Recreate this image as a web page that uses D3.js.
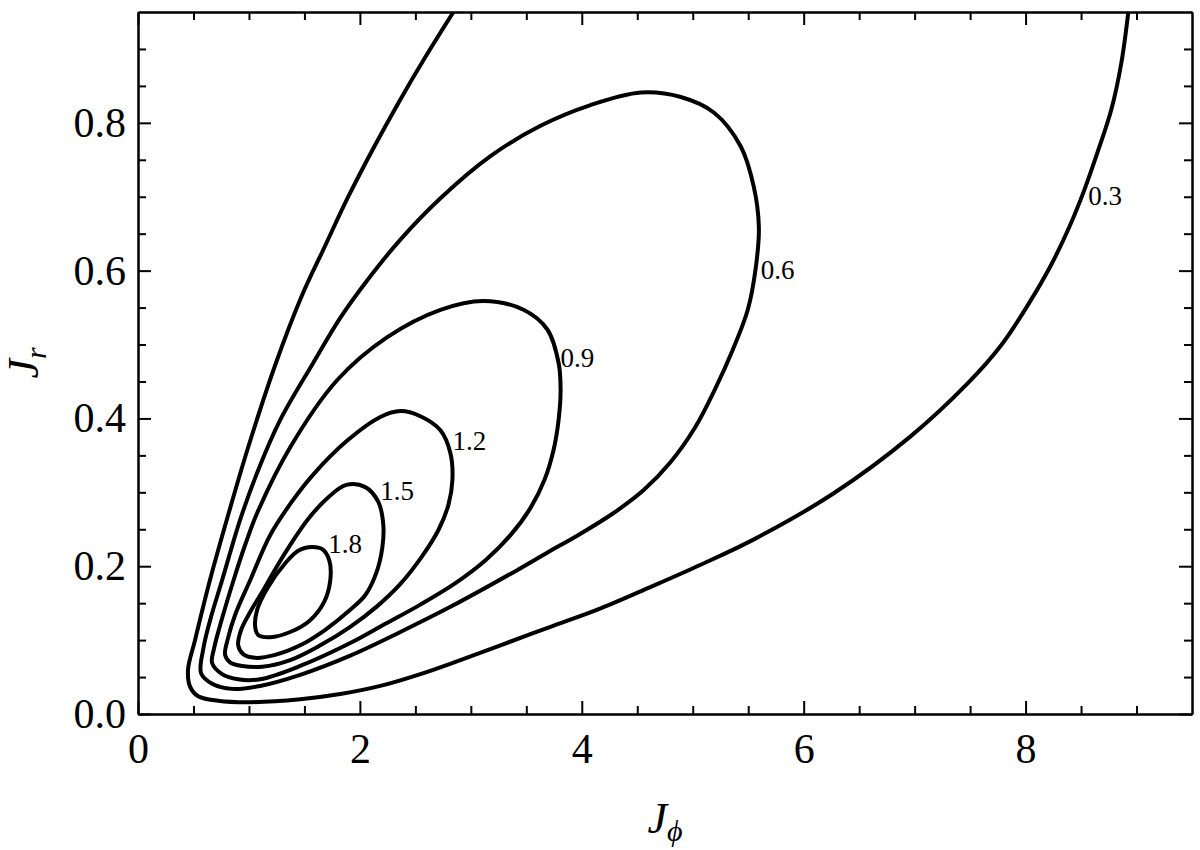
<!DOCTYPE html>
<html>
<head>
<meta charset="utf-8">
<script src="https://cdn.jsdelivr.net/npm/d3@7"></script>
<style>
  body { margin: 0; background: #fff; }
  svg { font-family: "Liberation Serif", "DejaVu Serif", serif; }
  .axis path, .axis line { stroke: #000; stroke-width: 2; }
  .axis text { font-size: 42px; fill: #000; font-family: "Liberation Serif", "DejaVu Serif", serif; }
  .contour { fill: none; stroke: #000; stroke-width: 4; stroke-linejoin: round; }
  .clabel { font-size: 27px; fill: #000; }
</style>
</head>
<body>
<script>
// contour levels and their labels
var levels = ["0.3", "0.6", "0.9", "1.2", "1.5", "1.8"];

// points, [J_phi, J_r]
var level03 = [[2.843,0.950],[2.590,0.889],[2.347,0.827],[2.112,0.763],[1.895,0.700],[1.688,0.634],
  [1.471,0.564],[1.236,0.472],[0.993,0.361],[0.812,0.269],[0.641,0.177],[0.514,0.100],[0.451,0.060],
  [0.469,0.037],[0.542,0.024],[0.722,0.018],[1.011,0.016],[1.462,0.020],[1.823,0.027],[2.184,0.038],
  [2.545,0.054],[2.906,0.073],[3.267,0.093],[3.718,0.118],[4.170,0.143],[4.621,0.172],[5.072,0.202],
  [5.560,0.237],[6.264,0.298],[6.958,0.375],[7.482,0.448],[7.780,0.499],[8.023,0.554],[8.231,0.608],
  [8.394,0.659],[8.529,0.709],[8.655,0.763],[8.773,0.818],[8.863,0.881],[8.926,0.950]];

var level06 = [[0.569,0.055],[0.587,0.087],[0.650,0.127],[0.758,0.181],[0.921,0.263],[1.083,0.330],
  [1.282,0.398],[1.579,0.475],[1.823,0.536],[2.067,0.587],[2.365,0.642],[2.726,0.698],[3.177,0.755],
  [3.628,0.796],[4.079,0.824],[4.531,0.841],[4.892,0.835],[5.190,0.814],[5.433,0.768],[5.551,0.713],
  [5.596,0.659],[5.569,0.605],[5.496,0.547],[5.361,0.493],[5.199,0.439],[5.018,0.387],[4.801,0.341],
  [4.558,0.303],[4.287,0.272],[3.989,0.244],[3.673,0.217],[3.421,0.195],[2.816,0.145],[2.365,0.111],
  [1.913,0.079],[1.462,0.053],[1.101,0.038],[0.848,0.034],[0.668,0.041]];

var level09 = [[0.668,0.069],[0.686,0.089],[0.740,0.120],[0.857,0.179],[0.966,0.229],[1.074,0.272],
  [1.372,0.361],[1.796,0.452],[2.247,0.510],[2.726,0.547],[3.114,0.559],[3.475,0.547],[3.691,0.520],
  [3.791,0.475],[3.809,0.439],[3.791,0.398],[3.745,0.357],[3.664,0.317],[3.538,0.279],[3.357,0.242],
  [3.132,0.208],[2.861,0.177],[2.545,0.148],[2.229,0.122],[1.913,0.096],[1.462,0.065],[1.101,0.047],
  [0.903,0.047],[0.758,0.054]];

var level12 = [[0.785,0.080],[0.812,0.103],[0.875,0.134],[1.011,0.181],[1.191,0.242],[1.390,0.288],
  [1.579,0.324],[1.886,0.370],[2.184,0.402],[2.365,0.410],[2.545,0.403],[2.726,0.384],[2.816,0.353],
  [2.834,0.317],[2.798,0.283],[2.708,0.249],[2.563,0.214],[2.365,0.176],[2.157,0.146],[1.913,0.118],
  [1.643,0.093],[1.372,0.073],[1.119,0.064],[0.939,0.065],[0.830,0.070]];

var level15 = [[0.903,0.093],[0.930,0.114],[1.011,0.138],[1.119,0.165],[1.245,0.198],[1.390,0.233],
  [1.534,0.264],[1.706,0.292],[1.877,0.310],[2.049,0.307],[2.166,0.287],[2.211,0.256],[2.202,0.225],
  [2.148,0.191],[2.049,0.161],[1.913,0.141],[1.688,0.114],[1.462,0.093],[1.236,0.080],[1.056,0.076],
  [0.948,0.081]];

var level18 = [[1.056,0.118],[1.074,0.141],[1.173,0.172],[1.327,0.204],[1.444,0.221],[1.570,0.226],
  [1.661,0.223],[1.724,0.208],[1.733,0.181],[1.679,0.152],[1.552,0.127],[1.372,0.111],[1.191,0.104],
  [1.083,0.107]];

// where each level's label sits (left edge, baseline)
var labelAt = [[8.565,0.689],[5.614,0.589],[3.809,0.470],[2.834,0.357],[2.184,0.290],[1.715,0.218]];

var xTicks = [0, 2, 4, 6, 8],
    xMinor = [0.5, 1, 1.5, 2.5, 3, 3.5, 4.5, 5, 5.5, 6.5, 7, 7.5, 8.5, 9],
    yTicks = [0, 0.2, 0.4, 0.6, 0.8],
    yMinor = [0.05, 0.1, 0.15, 0.25, 0.3, 0.35, 0.45, 0.5, 0.55, 0.65, 0.7, 0.75, 0.85, 0.9];

var margin = {top: 12, right: 8, bottom: 136, left: 138},
    width = 1200 - margin.left - margin.right,
    height = 850 - margin.top - margin.bottom;

var x = d3.scaleLinear().domain([0, 9.5]).range([0, width]),
    y = d3.scaleLinear().domain([0, 0.95]).range([height, 0]);

var svg = d3.select("body").append("svg")
  .attr("width", 1200)
  .attr("height", 850)
  .append("g")
  .attr("transform", "translate(" + margin.left + "," + margin.top + ")");

svg.append("clipPath").attr("id", "plot")
  .append("rect").attr("width", width).attr("height", height);

// contour lines
var openLine = d3.line()
  .x(function(d) { return x(d[0]); })
  .y(function(d) { return y(d[1]); })
  .curve(d3.curveCatmullRom.alpha(0.5));

var loopLine = d3.line()
  .x(function(d) { return x(d[0]); })
  .y(function(d) { return y(d[1]); })
  .curve(d3.curveCatmullRomClosed.alpha(0.5));

var lines = svg.append("g").attr("clip-path", "url(#plot)");
lines.append("path").attr("class", "contour").attr("d", openLine(level03));
[level06, level09, level12, level15, level18].forEach(function(c) {
  lines.append("path").attr("class", "contour").attr("d", loopLine(c));
});

svg.selectAll(".clabel")
  .data(levels)
  .enter()
  .append("text")
  .attr("class", "clabel")
  .attr("x", function(d, i) { return x(labelAt[i][0]); })
  .attr("y", function(d, i) { return y(labelAt[i][1]); })
  .text(function(d) { return d; });

// axes, ticks pointing inward on all four sides
function noLabel() { return ""; }

svg.append("g").attr("class", "axis")
  .attr("transform", "translate(0," + height + ")")
  .call(d3.axisBottom(x).tickValues(xTicks).tickFormat(d3.format("d")).tickSize(-13).tickSizeOuter(0).tickPadding(19));
svg.append("g").attr("class", "axis")
  .attr("transform", "translate(0," + height + ")")
  .call(d3.axisBottom(x).tickValues(xMinor).tickFormat(noLabel).tickSize(-8).tickSizeOuter(0));
svg.append("g").attr("class", "axis")
  .call(d3.axisTop(x).tickValues(xTicks).tickFormat(noLabel).tickSize(-13).tickSizeOuter(0));
svg.append("g").attr("class", "axis")
  .call(d3.axisTop(x).tickValues(xMinor).tickFormat(noLabel).tickSize(-8).tickSizeOuter(0));

svg.append("g").attr("class", "axis")
  .call(d3.axisLeft(y).tickValues(yTicks).tickFormat(d3.format(".1f")).tickSize(-13).tickSizeOuter(0).tickPadding(12));
svg.append("g").attr("class", "axis")
  .call(d3.axisLeft(y).tickValues(yMinor).tickFormat(noLabel).tickSize(-8).tickSizeOuter(0));
svg.append("g").attr("class", "axis")
  .attr("transform", "translate(" + width + ",0)")
  .call(d3.axisRight(y).tickValues(yTicks).tickFormat(noLabel).tickSize(-13).tickSizeOuter(0));
svg.append("g").attr("class", "axis")
  .attr("transform", "translate(" + width + ",0)")
  .call(d3.axisRight(y).tickValues(yMinor).tickFormat(noLabel).tickSize(-8).tickSizeOuter(0));

// axis titles
var xt = svg.append("text")
  .attr("x", width / 2)
  .attr("y", height + 119)
  .attr("text-anchor", "middle")
  .style("font-size", "44px");
xt.append("tspan").style("font-style", "italic").text("J");
xt.append("tspan").style("font-style", "italic").style("font-size", "30px").attr("dy", 8).text("ϕ");

var yt = svg.append("text")
  .attr("transform", "translate(" + (38 - margin.left) + "," + (height / 2) + ") rotate(-90)")
  .attr("text-anchor", "middle")
  .style("font-size", "44px");
yt.append("tspan").style("font-style", "italic").text("J");
yt.append("tspan").style("font-style", "italic").style("font-size", "30px").attr("dy", 8).text("r");
</script>
</body>
</html>
